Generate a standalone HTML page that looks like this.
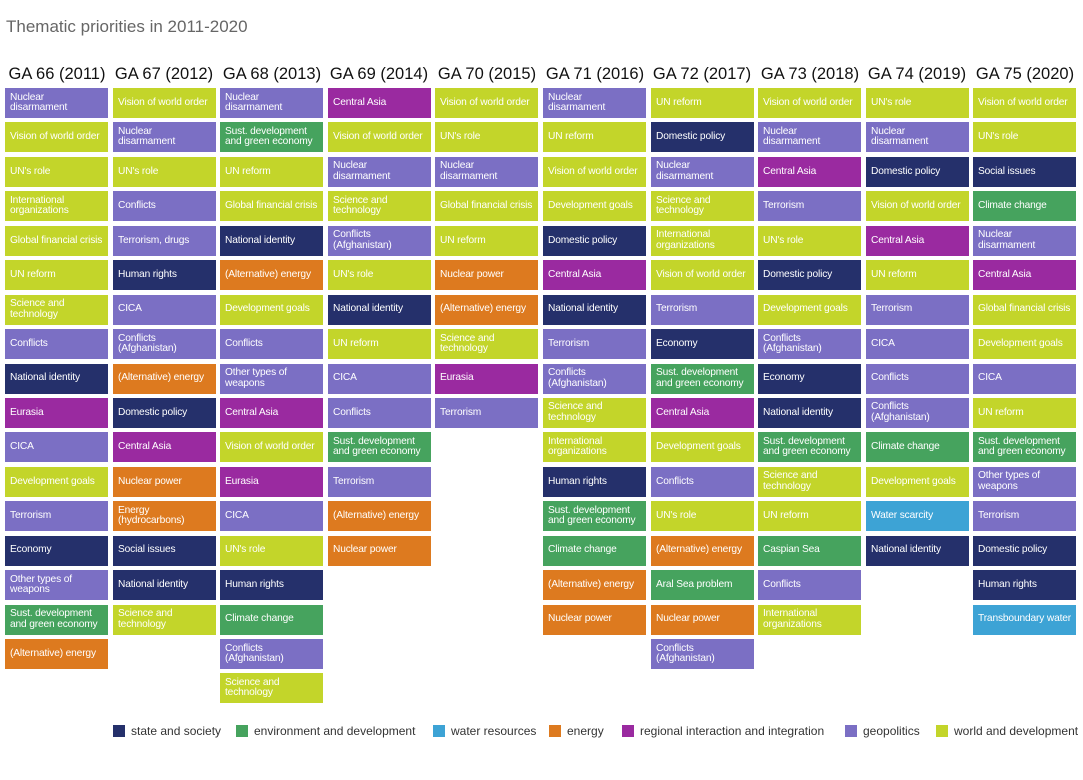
<!DOCTYPE html>
<html><head><meta charset="utf-8"><style>
*{margin:0;padding:0;box-sizing:border-box}
body{width:1083px;height:780px;background:#fff;font-family:"Liberation Sans",sans-serif;position:relative;overflow:hidden}
.t{position:absolute;left:6px;top:17px;font-size:17px;color:#666}
.c{position:absolute;top:88px;width:103px}
.h{position:absolute;top:65px;width:108px;font-size:16.5px;color:#111;text-align:center;white-space:nowrap}
.c div{height:30px;margin-bottom:4.45px;color:#fff;font-size:10.2px;letter-spacing:-0.15px;line-height:10.5px;padding-left:5px;display:flex;align-items:center;white-space:nowrap;overflow:hidden}
.P{background:#7b6fc4}.L{background:#c3d52a}.G{background:#46a35e}.N{background:#25306b}.O{background:#dd7a1f}.M{background:#9a2aa0}.B{background:#3da3d5}
.lg{position:absolute;top:724px;font-size:12px;color:#333;white-space:nowrap}
.lg span{display:inline-block;width:12px;height:12px;vertical-align:-2px;margin-right:6px}
</style></head><body>
<div class="t">Thematic priorities in 2011-2020</div>
<div class="h" style="left:3px">GA 66 (2011)</div>
<div class="h" style="left:110px">GA 67 (2012)</div>
<div class="h" style="left:218px">GA 68 (2013)</div>
<div class="h" style="left:325px">GA 69 (2014)</div>
<div class="h" style="left:433px">GA 70 (2015)</div>
<div class="h" style="left:541px">GA 71 (2016)</div>
<div class="h" style="left:648px">GA 72 (2017)</div>
<div class="h" style="left:756px">GA 73 (2018)</div>
<div class="h" style="left:863px">GA 74 (2019)</div>
<div class="h" style="left:971px">GA 75 (2020)</div>

<div class="c" style="left:5px">
<div class="P">Nuclear<br>disarmament</div><div class="L">Vision of world order</div><div class="L">UN's role</div><div class="L">International<br>organizations</div><div class="L">Global financial crisis</div><div class="L">UN reform</div><div class="L">Science and<br>technology</div><div class="P">Conflicts</div><div class="N">National identity</div><div class="M">Eurasia</div><div class="P">CICA</div><div class="L">Development goals</div><div class="P">Terrorism</div><div class="N">Economy</div><div class="P">Other types of<br>weapons</div><div class="G">Sust. development<br>and green economy</div><div class="O">(Alternative) energy</div>
</div>
<div class="c" style="left:113px">
<div class="L">Vision of world order</div><div class="P">Nuclear<br>disarmament</div><div class="L">UN's role</div><div class="P">Conflicts</div><div class="P">Terrorism, drugs</div><div class="N">Human rights</div><div class="P">CICA</div><div class="P">Conflicts<br>(Afghanistan)</div><div class="O">(Alternative) energy</div><div class="N">Domestic policy</div><div class="M">Central Asia</div><div class="O">Nuclear power</div><div class="O">Energy<br>(hydrocarbons)</div><div class="N">Social issues</div><div class="N">National identity</div><div class="L">Science and<br>technology</div>
</div>
<div class="c" style="left:220px">
<div class="P">Nuclear<br>disarmament</div><div class="G">Sust. development<br>and green economy</div><div class="L">UN reform</div><div class="L">Global financial crisis</div><div class="N">National identity</div><div class="O">(Alternative) energy</div><div class="L">Development goals</div><div class="P">Conflicts</div><div class="P">Other types of<br>weapons</div><div class="M">Central Asia</div><div class="L">Vision of world order</div><div class="M">Eurasia</div><div class="P">CICA</div><div class="L">UN's role</div><div class="N">Human rights</div><div class="G">Climate change</div><div class="P">Conflicts<br>(Afghanistan)</div><div class="L">Science and<br>technology</div>
</div>
<div class="c" style="left:328px">
<div class="M">Central Asia</div><div class="L">Vision of world order</div><div class="P">Nuclear<br>disarmament</div><div class="L">Science and<br>technology</div><div class="P">Conflicts<br>(Afghanistan)</div><div class="L">UN's role</div><div class="N">National identity</div><div class="L">UN reform</div><div class="P">CICA</div><div class="P">Conflicts</div><div class="G">Sust. development<br>and green economy</div><div class="P">Terrorism</div><div class="O">(Alternative) energy</div><div class="O">Nuclear power</div>
</div>
<div class="c" style="left:435px">
<div class="L">Vision of world order</div><div class="L">UN's role</div><div class="P">Nuclear<br>disarmament</div><div class="L">Global financial crisis</div><div class="L">UN reform</div><div class="O">Nuclear power</div><div class="O">(Alternative) energy</div><div class="L">Science and<br>technology</div><div class="M">Eurasia</div><div class="P">Terrorism</div>
</div>
<div class="c" style="left:543px">
<div class="P">Nuclear<br>disarmament</div><div class="L">UN reform</div><div class="L">Vision of world order</div><div class="L">Development goals</div><div class="N">Domestic policy</div><div class="M">Central Asia</div><div class="N">National identity</div><div class="P">Terrorism</div><div class="P">Conflicts<br>(Afghanistan)</div><div class="L">Science and<br>technology</div><div class="L">International<br>organizations</div><div class="N">Human rights</div><div class="G">Sust. development<br>and green economy</div><div class="G">Climate change</div><div class="O">(Alternative) energy</div><div class="O">Nuclear power</div>
</div>
<div class="c" style="left:651px">
<div class="L">UN reform</div><div class="N">Domestic policy</div><div class="P">Nuclear<br>disarmament</div><div class="L">Science and<br>technology</div><div class="L">International<br>organizations</div><div class="L">Vision of world order</div><div class="P">Terrorism</div><div class="N">Economy</div><div class="G">Sust. development<br>and green economy</div><div class="M">Central Asia</div><div class="L">Development goals</div><div class="P">Conflicts</div><div class="L">UN's role</div><div class="O">(Alternative) energy</div><div class="G">Aral Sea problem</div><div class="O">Nuclear power</div><div class="P">Conflicts<br>(Afghanistan)</div>
</div>
<div class="c" style="left:758px">
<div class="L">Vision of world order</div><div class="P">Nuclear<br>disarmament</div><div class="M">Central Asia</div><div class="P">Terrorism</div><div class="L">UN's role</div><div class="N">Domestic policy</div><div class="L">Development goals</div><div class="P">Conflicts<br>(Afghanistan)</div><div class="N">Economy</div><div class="N">National identity</div><div class="G">Sust. development<br>and green economy</div><div class="L">Science and<br>technology</div><div class="L">UN reform</div><div class="G">Caspian Sea</div><div class="P">Conflicts</div><div class="L">International<br>organizations</div>
</div>
<div class="c" style="left:866px">
<div class="L">UN's role</div><div class="P">Nuclear<br>disarmament</div><div class="N">Domestic policy</div><div class="L">Vision of world order</div><div class="M">Central Asia</div><div class="L">UN reform</div><div class="P">Terrorism</div><div class="P">CICA</div><div class="P">Conflicts</div><div class="P">Conflicts<br>(Afghanistan)</div><div class="G">Climate change</div><div class="L">Development goals</div><div class="B">Water scarcity</div><div class="N">National identity</div>
</div>
<div class="c" style="left:973px">
<div class="L">Vision of world order</div><div class="L">UN's role</div><div class="N">Social issues</div><div class="G">Climate change</div><div class="P">Nuclear<br>disarmament</div><div class="M">Central Asia</div><div class="L">Global financial crisis</div><div class="L">Development goals</div><div class="P">CICA</div><div class="L">UN reform</div><div class="G">Sust. development<br>and green economy</div><div class="P">Other types of<br>weapons</div><div class="P">Terrorism</div><div class="N">Domestic policy</div><div class="N">Human rights</div><div class="B">Transboundary water</div>
</div>

<div class="lg" style="left:113px"><span class="N"></span>state and society</div>
<div class="lg" style="left:236px"><span class="G"></span>environment and development</div>
<div class="lg" style="left:433px"><span class="B"></span>water resources</div>
<div class="lg" style="left:549px"><span class="O"></span>energy</div>
<div class="lg" style="left:622px"><span class="M"></span>regional interaction and integration</div>
<div class="lg" style="left:845px"><span class="P"></span>geopolitics</div>
<div class="lg" style="left:936px"><span class="L"></span>world and development</div>
</body></html>
